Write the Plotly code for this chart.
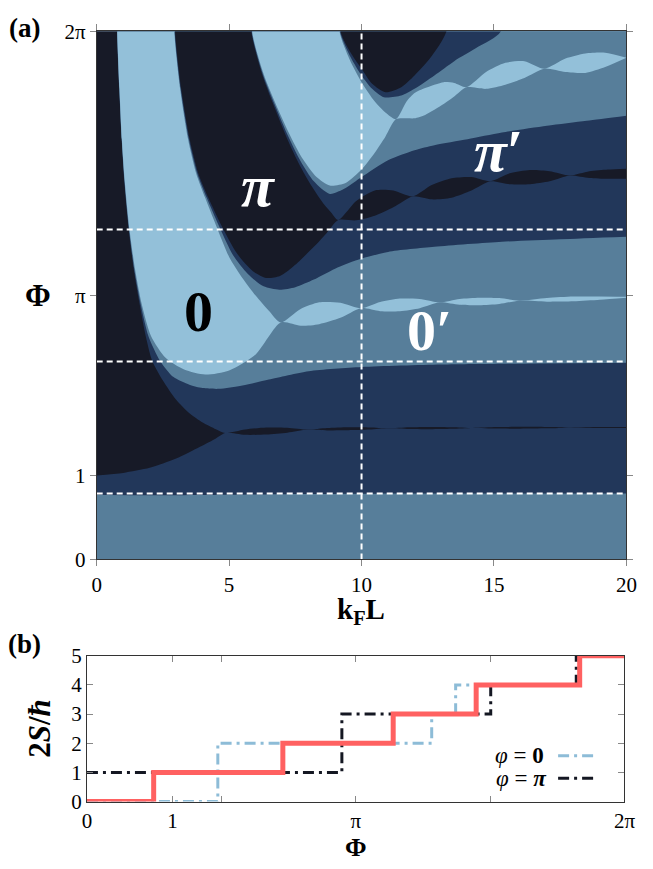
import numpy as np
import plotly.graph_objects as go

PI = np.pi
TOP = 7.0  # clip value above the visible range (curve leaves through the top edge)

# ---------------- panel (a): phase-boundary curves  Phi(k_F L) ----------------
C1_K = [0, 2, 4, 7, 10, 14, 20]
C1_PHI = [0.77, 0.763, 0.768, 0.777, 0.782, 0.784, 0.785]

C2_K = [0, 1, 2, 3, 3.9, 4.5]
C2_PHI = [1.00, 1.03, 1.09, 1.20, 1.34, 1.44]

C3_K = [0, 0.75, 0.765, 0.85, 0.94, 1.04, 1.21, 1.40, 1.62, 1.85, 2.1, 2.5, 3.0, 3.5, 4.0, 4.5]
C3_PHI = [TOP, TOP, 6.28, 5.6, 5.0, 4.5, 3.92, 3.45, 3.04, 2.66, 2.36, 2.13, 1.90, 1.74, 1.63, 1.55]

C4_K = [0, 0.755, 0.77, 0.855, 0.945, 1.05, 1.225, 1.42, 1.66, 1.95, 2.4, 2.9, 3.5, 4.0, 4.6,
        5.5, 6.5, 8.0, 10, 13, 16, 20]
C4_PHI = [TOP, TOP, 6.28, 5.6, 5.0, 4.5, 3.92, 3.45, 3.04, 2.66, 2.36, 2.17, 2.08, 2.04, 2.03,
          2.07, 2.14, 2.24, 2.29, 2.32, 2.33, 2.34]

C5_K = [0, 0.76, 0.775, 0.86, 0.95, 1.06, 1.24, 1.45, 1.70, 2.05, 2.6, 3.3, 4.1, 5.0, 6.0]
C5_PHI = [TOP, TOP, 6.28, 5.6, 5.0, 4.5, 3.92, 3.45, 3.04, 2.66, 2.40, 2.26, 2.20, 2.25, 2.44]

C6_K = [0, 2.90, 2.93, 3.15, 3.45, 3.75, 4.1, 4.5, 5.0, 5.5, 6.0, 6.5]
C6_PHI = [TOP, TOP, 6.28, 5.6, 5.0, 4.6, 4.3, 3.98, 3.6, 3.35, 3.14, 2.96]

C7_K = [0, 2.915, 2.945, 3.17, 3.48, 3.79, 4.16, 4.6, 5.15, 5.7, 6.3, 6.9, 7.5, 8.2, 9.0, 10,
        11, 12.75, 15.3, 17.5, 20]
C7_PHI = [TOP, TOP, 6.28, 5.6, 5.0, 4.6, 4.3, 3.98, 3.62, 3.40, 3.25, 3.21, 3.24, 3.33, 3.46, 3.58,
          3.66, 3.72, 3.78, 3.81, 3.84]

C8_K = [0, 2.93, 2.96, 3.19, 3.51, 3.83, 4.22, 4.7, 5.3, 5.9, 6.4, 6.9, 7.2, 7.65, 8.2, 8.67]
C8_PHI = [TOP, TOP, 6.28, 5.6, 5.0, 4.6, 4.3, 3.98, 3.64, 3.43, 3.35, 3.37, 3.43, 3.55, 3.72, 3.88]

C9_K = [0, 5.82, 5.84, 6.27, 6.75, 7.2, 7.65, 8.1, 8.55, 8.85]
C9_PHI = [TOP, TOP, 6.28, 5.75, 5.35, 5.0, 4.7, 4.45, 4.24, 4.13]

C10_K = [0, 5.835, 5.855, 6.29, 6.78, 7.24, 7.7, 8.2, 8.8, 9.4, 10, 11, 12, 12.75, 14, 15.3,
         17, 18.5, 20]
C10_PHI = [TOP, TOP, 6.28, 5.76, 5.37, 5.03, 4.74, 4.5, 4.35, 4.42, 4.55, 4.75, 4.87, 4.93, 5.0,
           5.08, 5.16, 5.22, 5.28]

C11_K = [0, 5.85, 5.87, 6.31, 6.8, 7.28, 7.75, 8.3, 8.8, 9.4, 10, 10.5, 10.9]
C11_PHI = [TOP, TOP, 6.28, 5.77, 5.39, 5.06, 4.78, 4.55, 4.45, 4.48, 4.64, 4.84, 5.03]

C12_K = [0, 9.14, 9.17, 9.55, 10.0, 10.5, 10.9]
C12_PHI = [TOP, TOP, 6.28, 5.95, 5.68, 5.45, 5.32]

C13_K = [0, 9.16, 9.19, 9.6, 10.0, 10.4, 10.84, 11.5, 12.0, 12.75, 13.5, 14.4, 15.25, 15.4, 20]
C13_PHI = [TOP, TOP, 6.28, 5.97, 5.76, 5.6, 5.5, 5.52, 5.6, 5.76, 5.93, 6.1, 6.28, TOP, TOP]

C14_K = [0, 9.18, 9.21, 9.65, 10.0, 10.4, 10.9, 11.5, 12.0, 12.6, 13.2, 13.3, 20]
C14_PHI = [TOP, TOP, 6.28, 6.0, 5.84, 5.66, 5.56, 5.62, 5.76, 5.97, 6.28, TOP, TOP]

# lens chains (middle line and half-width) near pi/2, pi, 3pi/2, 2pi
LENS_A_K = [4.85, 5.6, 6.4, 7.2, 7.96, 8.7, 9.5, 10.3, 11.0, 11.8, 12.6, 13.4, 14.2, 15.1, 16.0,
            17.0, 17.9, 19.0, 20]
LENS_A_MID = [1.505, 1.515, 1.528, 1.538, 1.545, 1.55, 1.555, 1.558, 1.56, 1.562, 1.563, 1.564,
              1.565, 1.566, 1.567, 1.568, 1.568, 1.569, 1.57]
LENS_A_HW = [0, 0.032, 0.042, 0.03, 0, 0.014, 0.018, 0.013, 0, 0.011, 0.014, 0.01, 0, 0.009,
             0.011, 0.008, 0, 0.006, 0.005]

LENS_B_K = [6.95, 7.7, 8.4, 9.2, 9.98, 10.7, 11.45, 12.2, 12.95, 13.7, 14.45, 15.2, 15.95, 17.0,
            18.0, 19.0, 20]
LENS_B_MID = [2.82, 2.88, 2.93, 2.965, 2.99, 3.01, 3.03, 3.045, 3.06, 3.065, 3.07, 3.075, 3.08,
              3.09, 3.10, 3.11, 3.12]
LENS_B_HW = [0, 0.10, 0.13, 0.09, 0, 0.055, 0.075, 0.055, 0, 0.035, 0.045, 0.035, 0, 0.022,
             0.028, 0.02, 0.006]

LENS_C_K = [9.12, 9.8, 10.5, 11.2, 11.93, 12.65, 13.4, 14.15, 14.86, 15.6, 16.36, 17.1, 17.86,
            18.6, 19.3, 20]
LENS_C_MID = [4.04, 4.15, 4.24, 4.29, 4.32, 4.37, 4.42, 4.47, 4.50, 4.53, 4.55, 4.56, 4.57, 4.58,
              4.585, 4.59]
LENS_C_HW = [0, 0.115, 0.15, 0.10, 0, 0.085, 0.115, 0.08, 0, 0.065, 0.085, 0.06, 0, 0.04, 0.055,
             0.06]

LENS_D_K = [11.3, 11.7, 12.0, 12.4, 13.1, 13.5, 13.96, 14.7, 15.43, 16.15, 16.9, 17.7, 18.45,
            19.2, 20]
LENS_D_MID = [5.24, 5.35, 5.40, 5.45, 5.55, 5.59, 5.62, 5.70, 5.78, 5.83, 5.84, 5.88, 5.905,
              5.945, 5.97]
LENS_D_HW = [0, 0.10, 0.15, 0.16, 0.13, 0.08, 0, 0.10, 0.13, 0.10, 0, 0.08, 0.115, 0.085, 0]

DASH_PHI = [PI / 4, 3 * PI / 4, 5 * PI / 4]
DASH_K = [10]

X_TICKS_A = [0, 5, 10, 15, 20]
Y_TICKS_A = [0, 1, PI, 2 * PI]
Y_TICKTEXT_A = ["0", "1", "π", "2π"]

# ---------------- panel (b): steps of 2S/hbar vs Phi ----------------
RED_PHI = [0, 0.78, 2.29, 3.58, 4.55, 5.76, 2 * PI]
RED_S = [0, 1, 2, 3, 4, 5, 5]
BLUE_PHI = [0, 1.53, 4.03, 4.31, 5.76, 2 * PI]
BLUE_S = [0, 2, 3, 4, 5, 5]
BLACK_PHI = [0, 2.98, 4.72, 5.72, 2 * PI]
BLACK_S = [1, 3, 4, 5, 5]

X_TICKS_B = [0, 1, PI, 2 * PI]
X_TICKTEXT_B = ["0", "1", "π", "2π"]
X_MINOR_B = [PI / 2, 3 * PI / 2]
Y_TICKS_B = [0, 1, 2, 3, 4, 5]

# ---------------- colours ----------------
STEEL = "#577e9a"
NAVY = "#22375a"
DARK = "#171a27"
LIGHT = "#93c0d9"
PALETTE = [STEEL, NAVY, DARK, NAVY, STEEL, LIGHT]
RED = "#ff6161"
BLUE = "#8dbcd7"
BLACK = "#141722"
FONT = "Liberation Serif"


def lens(mid, hw, sign):
    return [m + sign * h for m, h in zip(mid, hw)]


curves = [
    (C1_K, C1_PHI),
    (C2_K + LENS_A_K, C2_PHI + lens(LENS_A_MID, LENS_A_HW, -1)),
    (C3_K + LENS_A_K, C3_PHI + lens(LENS_A_MID, LENS_A_HW, +1)),
    (C4_K, C4_PHI),
    (C5_K + LENS_B_K, C5_PHI + lens(LENS_B_MID, LENS_B_HW, -1)),
    (C6_K + LENS_B_K, C6_PHI + lens(LENS_B_MID, LENS_B_HW, +1)),
    (C7_K, C7_PHI),
    (C8_K + LENS_C_K, C8_PHI + lens(LENS_C_MID, LENS_C_HW, -1)),
    (C9_K + LENS_C_K, C9_PHI + lens(LENS_C_MID, LENS_C_HW, +1)),
    (C10_K, C10_PHI),
    (C11_K + LENS_D_K, C11_PHI + lens(LENS_D_MID, LENS_D_HW, -1)),
    (C12_K + LENS_D_K, C12_PHI + lens(LENS_D_MID, LENS_D_HW, +1)),
    (C13_K, C13_PHI),
    (C14_K, C14_PHI),
]

fig = go.Figure()


def add_region(k, phi, color):
    fig.add_trace(go.Scatter(x=[0, 20], y=[TOP, TOP], mode="lines", line=dict(width=0),
                             hoverinfo="skip", showlegend=False, xaxis="x", yaxis="y"))
    fig.add_trace(go.Scatter(x=k, y=phi, mode="lines",
                             line=dict(width=0, shape="spline", smoothing=0.7),
                             fill="tonexty", fillcolor=color, hoverinfo="skip",
                             showlegend=False, xaxis="x", yaxis="y"))


add_region([0, 20], [-0.2, -0.2], PALETTE[0])
for n, (k, phi) in enumerate(curves, start=1):
    add_region(k, phi, PALETTE[n % 6])

for p in DASH_PHI:
    fig.add_trace(go.Scatter(x=[0, 20], y=[p, p], mode="lines",
                             line=dict(color="white", width=2, dash="6px,4px"),
                             hoverinfo="skip", showlegend=False, xaxis="x", yaxis="y"))
for kk in DASH_K:
    fig.add_trace(go.Scatter(x=[kk, kk], y=[0, 2 * PI], mode="lines",
                             line=dict(color="white", width=2, dash="6px,4px"),
                             hoverinfo="skip", showlegend=False, xaxis="x", yaxis="y"))

# panel (b)
DD = "11px,5px,3px,5px"
fig.add_trace(go.Scatter(x=BLUE_PHI, y=BLUE_S, mode="lines", line=dict(color=BLUE, width=3, dash=DD, shape="hv"),
                         showlegend=False, xaxis="x2", yaxis="y2"))
fig.add_trace(go.Scatter(x=BLACK_PHI, y=BLACK_S, mode="lines", line=dict(color=BLACK, width=3, dash=DD, shape="hv"),
                         showlegend=False, xaxis="x2", yaxis="y2"))
fig.add_trace(go.Scatter(x=RED_PHI, y=RED_S, mode="lines", line=dict(color=RED, width=5, shape="hv"),
                         showlegend=False, xaxis="x2", yaxis="y2"))

W, H = 653, 869


def px(x):
    return x / W


def py(y):
    return (H - y) / H


ax_common = dict(showgrid=False, zeroline=False, showline=True, linecolor="#333333", linewidth=1,
                 tickcolor="#888888", ticklen=6, tickfont=dict(family=FONT, size=21, color="black"))

fig.update_layout(
    width=W, height=H, margin=dict(l=0, r=0, t=0, b=0),
    paper_bgcolor="white", plot_bgcolor="white",
    xaxis=dict(domain=[px(94), px(637)], range=[0, 20], tickvals=X_TICKS_A, ticks="outside",
               mirror="ticks", anchor="y", **ax_common),
    yaxis=dict(domain=[py(563), py(20)], range=[0, 2 * PI], tickvals=Y_TICKS_A, ticktext=Y_TICKTEXT_A,
               ticks="outside", mirror="ticks", anchor="x", **ax_common),
    xaxis2=dict(domain=[px(84), px(635)], range=[0, 2 * PI], tickvals=X_TICKS_B, ticktext=X_TICKTEXT_B,
                ticks="inside", mirror="ticks", anchor="y2",
                minor=dict(tickvals=X_MINOR_B, ticks="inside", ticklen=6, tickcolor="#888888"),
                **ax_common),
    yaxis2=dict(domain=[py(812), py(662)], range=[0, 5], tickvals=Y_TICKS_B, ticks="inside",
                mirror="ticks", anchor="x2", **ax_common),
)

ann = []


def label(x, y, text, size, color="black", ref="paper", **kw):
    d = dict(x=x, y=y, text=text, showarrow=False, font=dict(family=FONT, size=size, color=color),
             xanchor="center", yanchor="middle")
    if ref == "a":
        d.update(xref="x", yref="y")
    else:
        d.update(xref="paper", yref="paper")
    d.update(kw)
    ann.append(d)


label(px(20), py(16), "<b>(a)</b>", 27)
label(px(20), py(650), "<b>(b)</b>", 27)
label(px(365), py(616), "<b>k<sub>F</sub>L</b>", 29)
label(px(34), py(292), "<b>Φ</b>", 31)
label(px(360), py(859), "<b>Φ</b>", 26)
label(px(36), py(737), "<b>2<i>S</i>/<i>ħ</i></b>", 31, textangle=-90)

label(3.83, 2.95, "<b>0</b>", 58, "black", ref="a")
label(6.12, 4.44, "<b><i>π</i></b>", 60, "white", ref="a")
label(15.2, 4.86, "<b><i>π</i>′</b>", 60, "white", ref="a")
label(12.56, 2.72, "<b>0′</b>", 58, "white", ref="a")

label(px(527), py(765), "<i>φ</i> = <b>0</b>", 23)
label(px(529), py(788), "<i>φ</i> = <b><i>π</i></b>", 23)

fig.update_layout(annotations=ann, shapes=[
    dict(type="line", xref="paper", yref="paper", x0=px(567), x1=px(608), y0=py(765), y1=py(765),
         line=dict(color=BLUE, width=3, dash=DD)),
    dict(type="line", xref="paper", yref="paper", x0=px(567), x1=px(608), y0=py(788), y1=py(788),
         line=dict(color=BLACK, width=3, dash=DD)),
])

fig.write_html("out.html", post_script=(
    "document.documentElement.style.margin='0';"
    "document.body.style.margin='0';document.body.style.padding='0';"))
